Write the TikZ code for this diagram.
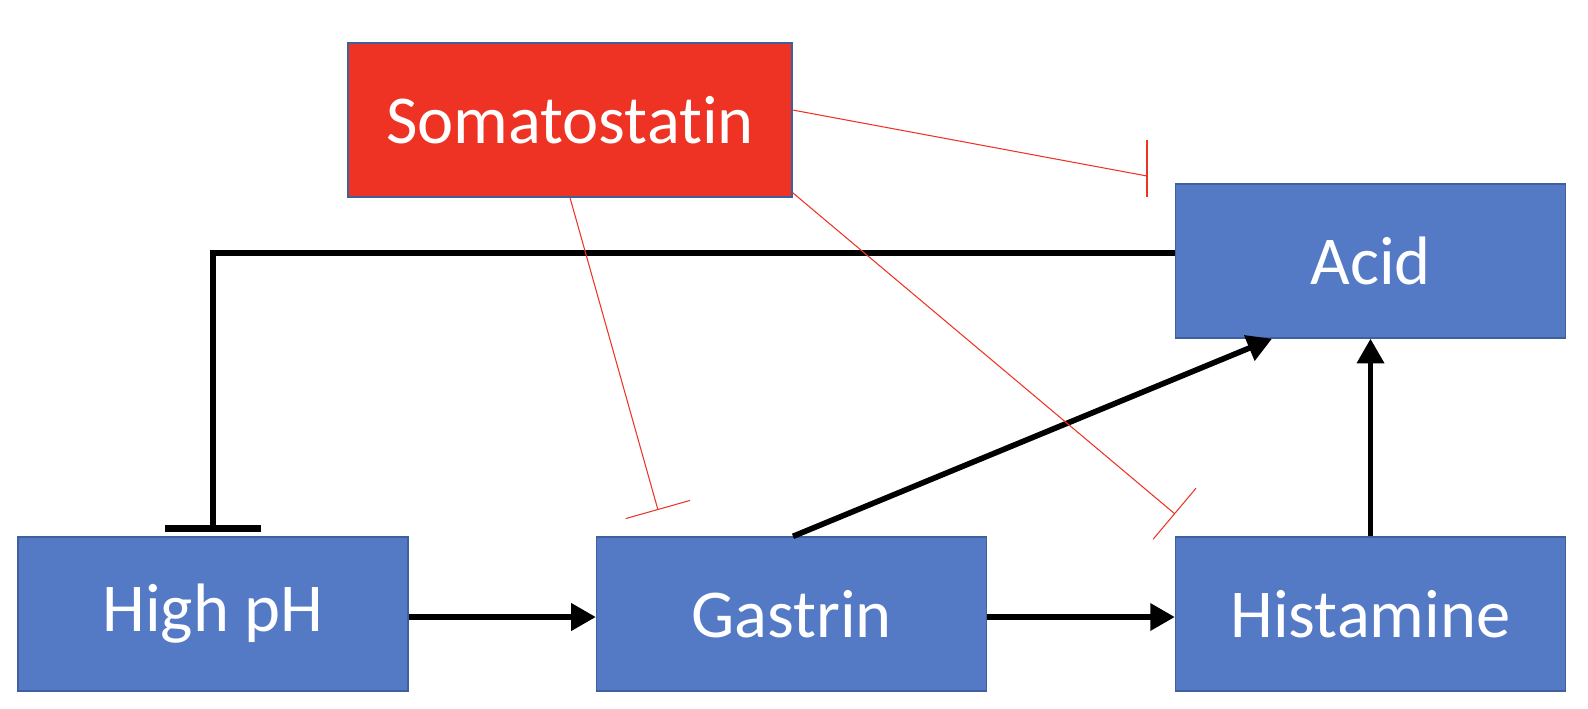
\documentclass[tikz,border=0pt]{standalone}
\usepackage{fontspec}
\setsansfont[Ligatures=NoCommon]{Carlito}
\usepackage{tikz}
\usetikzlibrary{positioning, arrows.meta, shapes, calc}
\usepackage{xcolor}
\definecolor{boxblue}{HTML}{5479C5}
\definecolor{boxedge}{HTML}{3F5F9E}
\definecolor{somared}{HTML}{EE3325}

\begin{document}
\begin{tikzpicture}[x=0.02cm, y=-0.02cm,
  box/.style={draw=boxedge, line width=0.8pt, fill=boxblue, text=white, inner sep=0pt,
    minimum width=7.8cm, minimum height=3.08cm, font=\sffamily\fontsize{39}{46}\selectfont},
  act/.style={-{Triangle[length=14pt, width=15pt]}, line width=3.2pt},
  inh/.style={-{Bar[width=38pt, line width=0.6pt]}, draw=somared, line width=0.6pt}]
\useasboundingbox (0,0) rectangle (1588,708);
\node[box, fill=somared, minimum width=8.88cm] (soma) at (570,120) {Somatostatin};
\node[box] (acid) at (1370.5,261) {Acid};
\node[box] (highph) at (213,614) {High pH};
\node[box] (gastrin) at (791.5,614) {Gastrin};
\node[box] (hist) at (1370.5,614) {Histamine};
% ends of the inhibitions
\coordinate (iacid) at (1147,176);
\coordinate (iacidtop) at (1147,140);
\coordinate (iacidbot) at (1147,197);
\coordinate (igas) at (658,510);
\coordinate (ihist) at (1175,514);
\coordinate (ihigh) at (213,532);
\draw[act] ([yshift=-0.06cm]highph.east) -- ([yshift=-0.06cm]gastrin.west);
\draw[act] ([yshift=-0.06cm]gastrin.east) -- ([yshift=-0.06cm]hist.west);
\draw[act] (hist.north) -- (acid.south);
\draw[act] ([xshift=0.03cm]gastrin.north) -- ([xshift=-1.97cm]acid.south);
\draw[line width=3.2pt, -{Bar[width=55pt, line width=4pt]}] ([yshift=0.16cm]acid.west) -| (ihigh);
\draw[somared, line width=0.6pt] ([yshift=0.2cm]soma.east) -- (iacid);
\draw[somared, line width=0.6pt] (iacidtop) -- (iacidbot);
\draw[inh] (soma.south) -- (igas);
\draw[inh] ([yshift=0.1cm]soma.south east) -- (ihist);
\end{tikzpicture}
\end{document}
